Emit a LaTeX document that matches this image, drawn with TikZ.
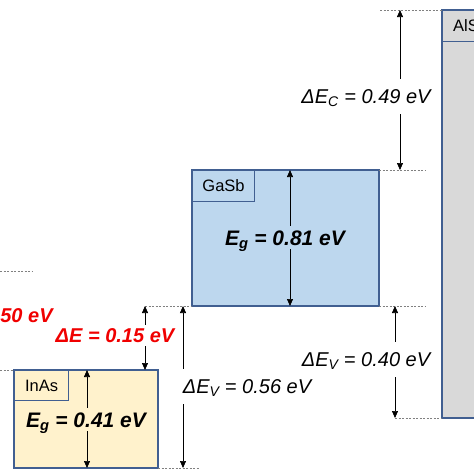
\documentclass[tikz,border=0pt]{standalone}
\usepackage{fontspec}
\setmainfont{Liberation Sans}
\usetikzlibrary{arrows.meta}
\definecolor{edgeblue}{RGB}{65,95,145}
\definecolor{inasfill}{RGB}{255,242,204}
\definecolor{gasbfill}{RGB}{189,215,238}
\definecolor{alsbfill}{RGB}{217,217,217}
\definecolor{gapred}{RGB}{240,0,0}
\tikzset{every picture/.style={line width=0.75pt},
  band/.style={draw=edgeblue, line width=1.1pt},
  tag/.style={draw=edgeblue, line width=1.1pt, anchor=north west, inner sep=0pt, font=\fontsize{16.5}{19}\selectfont},
  level/.style={gray, line width=0.6pt, dash pattern=on 2pt off 1.5pt},
  gaparrow/.style={-{Triangle[length=7pt,width=6pt]}, black, line width=0.7pt},
  offsetlbl/.style={anchor=base, inner xsep=0pt, inner ysep=9pt, text height=15pt, text depth=2pt, font=\fontsize{20}{24}\selectfont\itshape},
  eglbl/.style={anchor=base, inner xsep=0pt, inner ysep=4pt, text height=15pt, text depth=0pt, font=\fontsize{21}{25}\selectfont\bfseries\itshape},
  redlbl/.style={anchor=base, inner xsep=0pt, inner ysep=2pt, text height=15pt, text depth=2pt, text=gapred, font=\fontsize{20}{24}\selectfont\bfseries\itshape}
}

\begin{document}
\begin{tikzpicture}[x=1pt,y=1pt,yscale=-1,xscale=1]
\useasboundingbox (0,0) rectangle (474,474);
\clip (0,0) rectangle (474,474);

%Shape: Rectangle [id:inas]
\draw [band, fill=inasfill] (14,370) rectangle (158,468);
%Shape: Rectangle [id:gasb]
\draw [band, fill=gasbfill] (192,170) rectangle (379,306);
%Shape: Rectangle [id:alsb]
\draw [band, fill=alsbfill] (442,10) rectangle (490,418);

% Material tags
\node (tagInAs) at (14,370) [tag, minimum width=54pt, minimum height=30pt] {InAs};
\node (tagGaSb) at (192,170) [tag, minimum width=62pt, minimum height=31pt] {GaSb};
\node (tagAlSb) at (442,10) [tag, fill=alsbfill, minimum width=56pt, minimum height=31pt] {AlSb};

%Straight Lines [id:levels]
\draw [level] (0,271) -- (33,271);
\draw [level] (0,370) -- (14,370);
\draw [level] (145,306) -- (192,306);
\draw [level] (158,468) -- (200,468);
\draw [level] (379,170) -- (425,170);
\draw [level] (379,306) -- (425,306);
\draw [level] (380,10) -- (442,10);
\draw [level] (395,418) -- (442,418);

% Text Node
\node (egInAs) at (86,427) [eglbl] {E\textsubscript{g} = 0.41 eV};
% Text Node
\node (egGaSb) at (285,245) [eglbl] {E\textsubscript{g} = 0.81 eV};
% Text Node
\node (dEc) at (366,103) [offsetlbl] {ΔE\textsubscript{C} = 0.49 eV};
% Text Node
\node (dEvAl) at (366,366) [offsetlbl] {ΔE\textsubscript{V} = 0.40 eV};
% Text Node
\node (dEvIn) at (247,393) [offsetlbl] {ΔE\textsubscript{V} = 0.56 eV};
% Text Node
\node (dEred) at (115,342) [redlbl] {ΔE = 0.15 eV};
% Text Node
\node (cutRed) at (53,322) [redlbl, anchor=base east] {50 eV};

% arrow end points
\coordinate (cTop) at (400,10);
\coordinate (cBot) at (400,170);
\coordinate (vAlTop) at (395,306);
\coordinate (vAlBot) at (395,418);
\coordinate (vInTop) at (183,306);
\coordinate (vInBot) at (183,468);
\coordinate (rTop) at (145,306);
\coordinate (rBot) at (145,370);
\coordinate (gTop) at (290,170);
\coordinate (gBot) at (290,306);
\coordinate (iTop) at (87,370);
\coordinate (iBot) at (87,468);

%Arrows
\draw [gaparrow] (dEc.north -| cTop) -- (cTop);
\draw [gaparrow] (dEc.south -| cBot) -- (cBot);
\draw [gaparrow] (dEvAl.north -| vAlTop) -- (vAlTop);
\draw [gaparrow] (dEvAl.south -| vAlBot) -- (vAlBot);
\draw [gaparrow] (dEvIn.north -| vInTop) -- (vInTop);
\draw [gaparrow] (dEvIn.south -| vInBot) -- (vInBot);
\draw [gaparrow] (dEred.north -| rTop) -- (rTop);
\draw [gaparrow] (dEred.south -| rBot) -- (rBot);
\draw [gaparrow] (egGaSb.north -| gTop) -- (gTop);
\draw [gaparrow] (egGaSb.south -| gBot) -- (gBot);
\draw [gaparrow] (egInAs.north -| iTop) -- (iTop);
\draw [gaparrow] (egInAs.south -| iBot) -- (iBot);

\end{tikzpicture}
\end{document}
